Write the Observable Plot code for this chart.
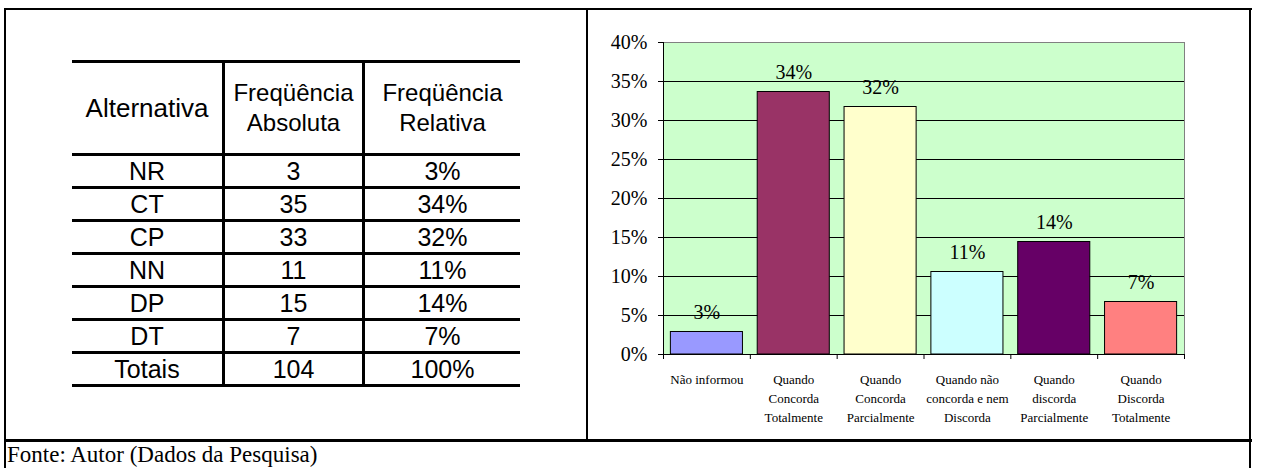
<!DOCTYPE html>
<html>
<head>
<meta charset="utf-8">
<script src="https://cdn.jsdelivr.net/npm/d3@7"></script>
<script src="https://cdn.jsdelivr.net/npm/@observablehq/plot@0.6"></script>
<style>
  html, body { margin: 0; padding: 0; background: #fff; }
  #page { position: relative; width: 1263px; height: 468px; overflow: hidden; }
  .line { position: absolute; background: #000; }
  #freq { position: absolute; left: 72px; top: 60px; border-collapse: collapse;
          font-family: "Liberation Sans", Arial, sans-serif; color: #000; }
  #freq td, #freq th { padding: 0; text-align: center; font-weight: normal;
          border-top: 3px solid #000; border-bottom: 3px solid #000; }
  #freq td + td, #freq th + th { border-left: 3px solid #000; }
  #freq th { height: 90px; font-size: 24px; line-height: 30px; }
  #freq th.first { font-size: 26px; }
  #freq td { height: 30px; font-size: 25px; line-height: 30px; }
  #chart { position: absolute; left: 590px; top: 10px; }
  #source { position: absolute; left: 7px; top: 442px; font-family: "Liberation Serif", serif;
            font-size: 23px; color: #000; white-space: nowrap; }
</style>
</head>
<body>
<div id="page">
  <div class="line" style="left:4px;top:8px;width:1248px;height:2px"></div>
  <div class="line" style="left:4px;top:8px;width:2px;height:470px"></div>
  <div class="line" style="left:1249px;top:8px;width:2px;height:470px"></div>
  <div class="line" style="left:586px;top:8px;width:2px;height:433px"></div>
  <div class="line" style="left:4px;top:439px;width:1248px;height:3px"></div>
  <table id="freq"></table>
  <div id="chart"></div>
  <div id="source">Fonte: Autor (Dados da Pesquisa)</div>
</div>
<script>
// Answer codes, full answer texts, counts and bar colours
const codes = ["NR", "CT", "CP", "NN", "DP", "DT"];
const answers = [
  "Não informou",
  "Quando\nConcorda\nTotalmente",
  "Quando\nConcorda\nParcialmente",
  "Quando não\nconcorda e nem\nDiscorda",
  "Quando\ndiscorda\nParcialmente",
  "Quando\nDiscorda\nTotalmente"
];
const counts = [3, 35, 33, 11, 15, 7];
const colors = ["#9999FF", "#993366", "#FFFFCC", "#CCFFFF", "#660066", "#FF8080"];
const yTicks = [0, 0.05, 0.10, 0.15, 0.20, 0.25, 0.30, 0.35, 0.40];

const total = d3.sum(counts);
const pct = d3.format(".0%");
const rows = codes.map((code, i) => ({
  i, code, answer: answers[i], count: counts[i], share: counts[i] / total, color: colors[i]
}));

// Frequency table
const table = d3.select("#freq");
const colWidths = [150, 137, 155];
const head = table.append("tr");
head.append("th").attr("class", "first").style("width", colWidths[0] + "px").text("Alternativa");
head.append("th").style("width", colWidths[1] + "px").html("Freqüência<br>Absoluta");
head.append("th").style("width", colWidths[2] + "px").html("Freqüência<br>Relativa");
for (const r of rows) {
  const tr = table.append("tr");
  tr.append("td").text(r.code);
  tr.append("td").text(r.count);
  tr.append("td").text(pct(r.share));
}
const foot = table.append("tr");
foot.append("td").text("Totais");
foot.append("td").text(total);
foot.append("td").text(pct(d3.sum(rows, d => d.share)));

// Bar chart of relative frequencies
const gap = 0.085; // empty share of each category slot on either side of the bar
const chart = Plot.plot({
  width: 655,
  height: 428,
  marginLeft: 73,
  marginRight: 61,
  marginTop: 32,
  marginBottom: 84,
  x: { domain: [0, codes.length] },
  y: { domain: [0, 0.4] },
  color: { type: "identity" },
  style: { fontFamily: "'Liberation Serif', 'Times New Roman', serif", color: "#000", background: "transparent" },
  marks: [
    Plot.frame({ fill: "#CCFFCC", stroke: "#808080" }),
    Plot.ruleY(yTicks.slice(1, -1), { stroke: "#000" }),
    Plot.rectY(rows, {
      x1: d => d.i + gap, x2: d => d.i + 1 - gap, y: "share",
      fill: "color", stroke: "#000", strokeWidth: 1
    }),
    Plot.ruleX([0], { stroke: "#000" }),
    Plot.ruleY([0], { stroke: "#000" }),
    Plot.axisY({ ticks: yTicks, tickFormat: pct, tickSize: 5, tickPadding: 11, fontSize: 20, label: null }),
    Plot.axisX({ ticks: d3.range(codes.length + 1), tickFormat: () => "", tickSize: 5, label: null }),
    Plot.axisX({
      ticks: rows.map(d => d.i + 0.5), tickFormat: v => answers[Math.floor(v)],
      tickSize: 0, tickPadding: 16, fontSize: 13, lineHeight: 1.45, label: null
    }),
    Plot.text(rows, { x: d => d.i + 0.5, y: "share", text: d => pct(d.share), dy: -19, fontSize: 20 })
  ]
});
document.getElementById("chart").appendChild(chart);
</script>
</body>
</html>
